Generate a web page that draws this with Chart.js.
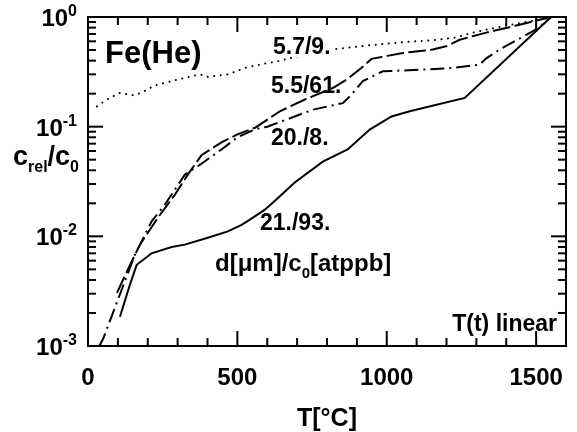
<!DOCTYPE html>
<html>
<head>
<meta charset="utf-8">
<script src="https://cdn.jsdelivr.net/npm/chart.js"></script>
<style>
	body { margin: 0; background: #fff; }
</style>
</head>
<body>
<canvas id="chart1" width="577" height="432"></canvas>
<script>
// 5.7/9. (dotted)
let dotT = [30, 57, 105, 154, 177, 224, 275, 324, 375, 397, 469, 525, 580, 635, 720, 826, 950, 1060, 1170, 1230, 1290, 1350, 1420, 1495, 1550];
let dotC = [0.153, 0.173, 0.203, 0.193, 0.203, 0.238, 0.258, 0.279, 0.3, 0.284, 0.3, 0.343, 0.37, 0.395, 0.45, 0.51, 0.555, 0.59, 0.62, 0.65, 0.72, 0.785, 0.855, 0.93, 1.0];
// 5.5/61. (dashed)
let dashT = [98, 135, 174, 234, 291, 334, 380, 447, 500, 560, 642, 726, 819, 865, 915, 949, 1054, 1154, 1199, 1244, 1333, 1421, 1550];
let dashC = [0.0031, 0.0051, 0.0084, 0.0148, 0.024, 0.0365, 0.055, 0.072, 0.085, 0.098, 0.138, 0.177, 0.225, 0.268, 0.343, 0.415, 0.47, 0.505, 0.54, 0.62, 0.72, 0.82, 1.0];
// 20./8. (dash-dot)
let ddT = [38, 51, 157, 213, 257, 324, 375, 447, 500, 560, 600, 664, 753, 853, 882, 920, 965, 987, 1110, 1221, 1311, 1333, 1378, 1500, 1550];
let ddC = [0.001, 0.00117, 0.0068, 0.0137, 0.0194, 0.0365, 0.045, 0.062, 0.08, 0.095, 0.1, 0.116, 0.143, 0.164, 0.196, 0.26, 0.3, 0.32, 0.33, 0.343, 0.368, 0.42, 0.505, 0.77, 1.0];
// 21./93. (solid)
let solT = [107, 140, 163, 213, 280, 324, 401, 468, 514, 542, 592, 635, 692, 786, 869, 943, 1016, 1077, 1261, 1550];
let solC = [0.00185, 0.0036, 0.0055, 0.007, 0.008, 0.0084, 0.0097, 0.0111, 0.0127, 0.0142, 0.0175, 0.0223, 0.031, 0.048, 0.062, 0.094, 0.124, 0.138, 0.183, 1.0];

let xTicks = [0, 500, 1000, 1500];
let xMinor = [0, 100, 200, 300, 400, 500, 600, 700, 800, 900, 1000, 1100, 1200, 1300, 1400, 1500, 1600];
let yDecades = [0, -1, -2, -3];
let yMinor = [2, 3, 4, 5, 6, 7, 8, 9];

let font = "'Liberation Sans', Arial, sans-serif";

function punti(ts, cs) {
	return ts.map((t, i) => ({ x: t, y: cs[i] }));
}

function linea(ts, cs, dash, w) {
	return {
		data: punti(ts, cs),
		showLine: true,
		borderColor: "#000",
		borderWidth: w,
		borderDash: dash,
		borderCapStyle: dash.length == 2 ? "round" : "butt",
		pointRadius: 0,
		tension: 0,
	};
}

function scrivi(ctx, parts, x, y) {
	// parts: [testo, size, dy]
	parts.forEach((p) => {
		ctx.font = "bold " + p[1] + "px " + font;
		ctx.fillText(p[0], x, y + p[2]);
		x += ctx.measureText(p[0]).width;
	});
	return x;
}

function larghezza(ctx, parts) {
	let w = 0;
	parts.forEach((p) => {
		ctx.font = "bold " + p[1] + "px " + font;
		w += ctx.measureText(p[0]).width;
	});
	return w;
}

let tacche = {
	id: "tacche",
	afterDraw: function (chart) {
		let ctx = chart.ctx;
		let a = chart.chartArea;
		let sx = chart.scales.x;
		let sy = chart.scales.y;
		ctx.save();
		ctx.fillStyle = "#000";
		xMinor.forEach((t) => {
			let px = sx.getPixelForValue(t);
			let lung = xTicks.indexOf(t) >= 0 ? 15 : 8;
			ctx.fillRect(px - 1, a.bottom - lung, 2, lung);
			ctx.fillRect(px - 1, a.top, 2, lung);
		});
		yDecades.forEach((e) => {
			let py = sy.getPixelForValue(Math.pow(10, e));
			ctx.fillRect(a.left, py - 1, 15, 2);
			ctx.fillRect(a.right - 15, py - 1, 15, 2);
			if (e == 0) return;
			yMinor.forEach((m) => {
				let pm = sy.getPixelForValue(m * Math.pow(10, e));
				ctx.fillRect(a.left, pm - 1, 8, 2);
				ctx.fillRect(a.right - 8, pm - 1, 8, 2);
			});
		});
		ctx.restore();
	},
};

let testi = {
	id: "testi",
	afterDraw: function (chart) {
		let ctx = chart.ctx;
		let a = chart.chartArea;
		let sx = chart.scales.x;
		let sy = chart.scales.y;
		ctx.save();
		ctx.strokeStyle = "#000";
		ctx.fillStyle = "#000";
		ctx.lineWidth = 2;
		ctx.strokeRect(a.left, a.top, a.right - a.left, a.bottom - a.top);

		// etichette asse x
		ctx.textAlign = "center";
		ctx.font = "bold 24px " + font;
		xTicks.forEach((t) => {
			ctx.fillText(String(t), sx.getPixelForValue(t), 385);
		});
		ctx.font = "bold 25px " + font;
		ctx.fillText("T[°C]", (a.left + a.right) / 2, 426);

		// etichette asse y
		ctx.textAlign = "left";
		yDecades.forEach((e) => {
			let py = sy.getPixelForValue(Math.pow(10, e));
			let parts = [
				["10", 24, 0],
				[e == 0 ? "0" : "-" + -e, 16, -10],
			];
			scrivi(ctx, parts, 77 - larghezza(ctx, parts), py + 9);
		});
		scrivi(ctx, [["c", 27, 0], ["rel", 16, 7], ["/c", 27, 0], ["0", 16, 7]], 13, 165);

		// testi nel grafico
		ctx.font = "bold 31px " + font;
		ctx.fillText("Fe(He)", 105, 63);
		ctx.font = "bold 23px " + font;
		let w = ctx.measureText("5.7/9.").width;
		ctx.fillStyle = "#fff";
		ctx.fillRect(272, 36, w + 4, 21);
		ctx.fillStyle = "#000";
		ctx.fillText("5.7/9.", 273, 54);
		ctx.fillText("5.5/61.", 271, 93);
		ctx.fillText("20./8.", 271, 145);
		ctx.fillText("21./93.", 260, 230);
		scrivi(ctx, [["d[μm]/c", 24, 0], ["0", 15, 7], ["[atppb]", 24, 0]], 215, 271);
		ctx.textAlign = "right";
		ctx.font = "bold 23px " + font;
		ctx.fillText("T(t) linear", 557, 331);
		ctx.restore();
	},
};

let grafico = new Chart(document.getElementById("chart1"), {
	type: "scatter",
	data: {
		datasets: [
			linea(dotT, dotC, [0.1, 6.5], 2),
			linea(dashT, dashC, [16, 6], 2),
			linea(ddT, ddC, [14, 5, 2, 5], 2),
			linea(solT, solC, [], 2),
		],
	},
	options: {
		responsive: false,
		animation: false,
		layout: { padding: { left: 88, top: 17, right: 11, bottom: 86 } },
		plugins: { legend: { display: false }, tooltip: { enabled: false } },
		scales: {
			x: { type: "linear", min: 0, max: 1600, display: false },
			y: { type: "logarithmic", min: 0.001, max: 1, display: false },
		},
	},
	plugins: [tacche, testi],
});
</script>
</body>
</html>
